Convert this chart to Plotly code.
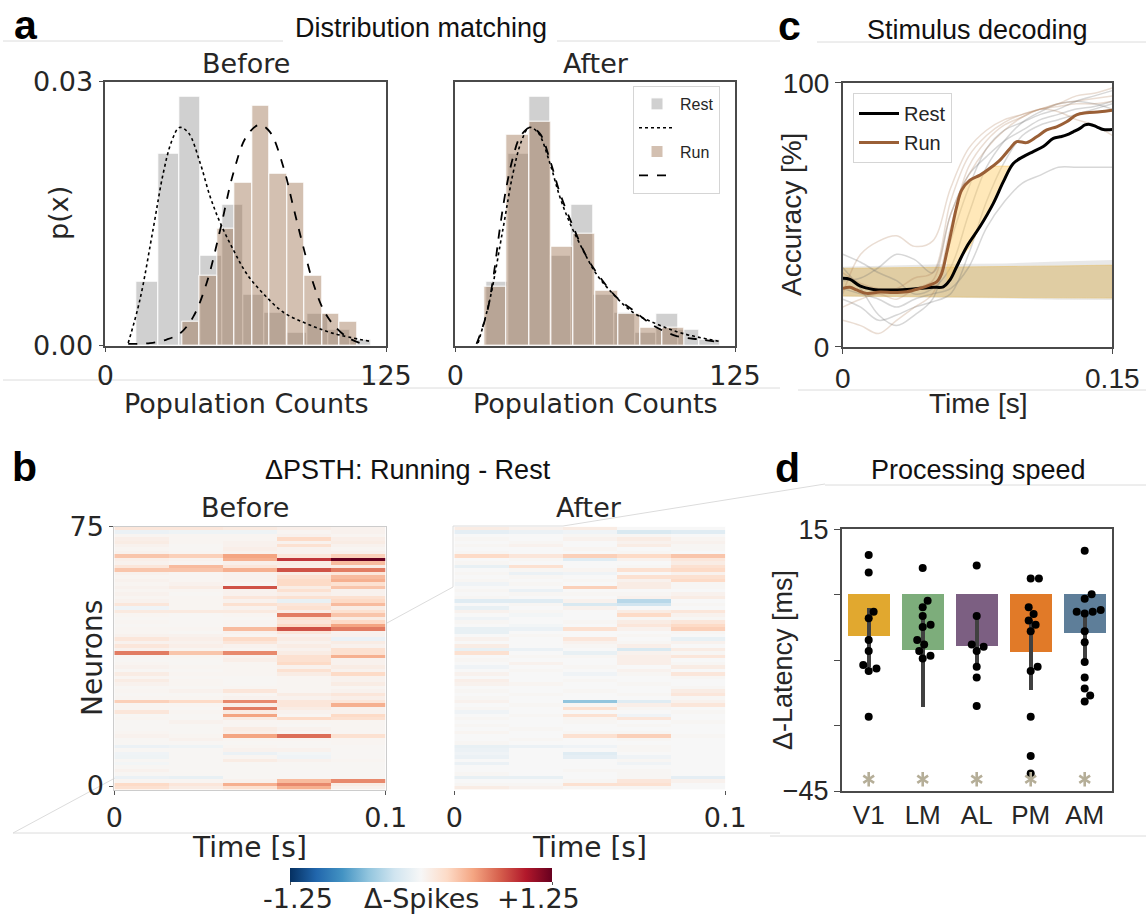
import plotly.graph_objects as go

FIG_W, FIG_H = 1146, 915
DEJAVU = "DejaVu Sans"
ARIAL = "Liberation Sans"
TXT = "#262626"
SPINE = "#4a4a4a"

# ======================= data: a (distribution matching) =======================
rest_bin_start, rest_bin_width = 14.0, 9.5
rest_density = [0.0073, 0.0218, 0.0283, 0.0102, 0.0160, 0.0058, 0.0037, 0.0015, 0.0036, 0.0018, 0.0007]
run_before_bin_start, run_before_bin_width = 34.1, 7.8
run_before_density = [0.0027, 0.0079, 0.0133, 0.0185, 0.0273, 0.0195, 0.0185, 0.0080, 0.0036, 0.0027]
run_after_bin_start, run_after_bin_width = 13.0, 9.95
run_after_density = [0.0067, 0.0240, 0.0254, 0.0112, 0.0127, 0.0063, 0.0036, 0.0021, 0.0021]

rest_fit_x = [10.2, 15.4, 21.4, 25.8, 29.5, 33.0, 37.0, 42.2, 46.6, 51.1, 57.0, 62.9, 70.4, 79.3, 89.7, 101.5, 117.9]
rest_fit_y = [0.0003, 0.0052, 0.0134, 0.0196, 0.0232, 0.0248, 0.0242, 0.0208, 0.0170, 0.0140, 0.0109, 0.0082, 0.0059, 0.0038, 0.0025, 0.0014, 0.0005]
run_fit_x = [10.2, 19.9, 27.3, 33.3, 39.2, 45.1, 51.1, 57.0, 62.9, 68.6, 73.3, 79.3, 83.7, 88.2, 92.6, 97.1, 101.5, 107.5, 113.4]
run_fit_y = [0.0002, 0.0003, 0.0007, 0.0014, 0.0033, 0.0071, 0.0131, 0.0196, 0.0238, 0.0251, 0.0243, 0.0203, 0.0158, 0.0112, 0.0071, 0.0041, 0.0024, 0.0010, 0.0003]
run_after_fit_x = [9.5, 14.0, 17.0, 20.0, 22.9, 25.9, 28.9, 33.4, 37.8, 42.3, 46.8, 52.7, 58.7, 64.6, 72.1, 79.6, 88.5, 98.9, 109.4, 119.0]
run_after_fit_y = [0.0002, 0.0036, 0.0078, 0.0135, 0.0181, 0.0215, 0.0237, 0.0248, 0.0241, 0.0211, 0.0173, 0.0135, 0.0101, 0.0078, 0.0055, 0.0040, 0.0023, 0.0011, 0.0007, 0.0004]

# ======================= data: c (stimulus decoding) =======================
rest_t = [0, .0041, .0096, .0170, .0263, .0356, .0430, .0504, .0560, .0597, .0634, .0690, .0764, .0838, .0894,
          .0949, .1005, .1060, .1116, .1172, .1209, .1246, .1283, .1320, .1348, .1376, .1413, .1450, .15]
rest_acc = [25.9, 25.5, 23.0, 21.7, 21.5, 21.7, 22.1, 22.5, 22.7, 25.3, 30.3, 37.9, 45.5, 54.3, 62.5,
            69.4, 72.0, 73.9, 75.8, 78.9, 79.5, 80.2, 81.4, 82.7, 84.0, 84.2, 83.3, 82.3, 82.3]
run_t = [0, .0041, .0078, .0133, .0208, .0282, .0356, .0430, .0486, .0523, .0551, .0578, .0606, .0634, .0662,
         .0708, .0764, .0819, .0875, .0931, .0968, .1023, .1079, .1135, .1190, .1246, .1301, .1357, .1431, .15]
run_acc = [22.1, 22.5, 21.5, 20.2, 20.7, 20.5, 20.8, 22.1, 23.4, 24.6, 27.8, 35.4, 44.2, 53.0, 59.3,
           63.1, 65.0, 67.6, 70.7, 75.1, 77.7, 77.3, 79.5, 82.1, 83.3, 85.2, 87.8, 88.6, 89.0, 89.6]

sig_t = [0.0578, 0.0606, 0.0634, 0.0662, 0.0708, 0.0764, 0.0801, 0.0838, 0.0894, 0.0935]
sig_upper = [35.4, 44.2, 53.0, 59.3, 63.1, 65.0, 66.9, 68.4, 68.4, 68.4]
sig_lower = [24.0, 27.0, 30.3, 34.0, 37.9, 45.5, 50.0, 54.3, 62.5, 68.4]

band_t = [0, 0.03, 0.06, 0.09, 0.12, 0.15]
rest_band_hi = [30.3, 30.8, 31.3, 31.5, 32.3, 32.8]
rest_band_lo = [18.9, 18.7, 18.5, 18.3, 17.8, 17.7]
run_band_hi = [29.7, 29.9, 30.0, 30.2, 30.6, 30.9]
run_band_lo = [19.2, 19.0, 18.9, 18.6, 18.5, 18.4]

session_t = [0, .01, .02, .03, .04, .05, .06, .07, .08, .09, .10, .11, .12, .13, .14, .15]
rest_sessions = [
    [30, 22, 12, 8, 12, 18, 40, 60, 75, 82, 85, 88, 90, 93, 95, 97],
    [22, 20, 18, 15, 18, 20, 22, 30, 45, 55, 62, 65, 68, 68, 68, 68],
    [18, 15, 10, 12, 15, 17, 20, 35, 55, 70, 80, 84, 86, 88, 90, 92],
    [35, 32, 28, 25, 20, 22, 30, 50, 68, 78, 85, 89, 92, 93, 92, 90],
    [25, 26, 30, 35, 33, 28, 50, 65, 72, 78, 82, 86, 88, 90, 91, 93],
]
run_sessions = [
    [20, 35, 40, 42, 38, 40, 60, 75, 82, 86, 88, 90, 92, 95, 96, 98],
    [10, 8, 5, 10, 15, 20, 45, 68, 78, 84, 87, 90, 89, 86, 84, 80],
    [28, 24, 22, 22, 26, 28, 55, 72, 80, 85, 88, 90, 92, 93, 94, 95],
    [15, 18, 20, 18, 22, 25, 50, 65, 75, 82, 87, 90, 91, 92, 92, 93],
]

# ======================= data: b (delta PSTH) =======================
time_bins = [0.01, 0.03, 0.05, 0.07, 0.09]
neuron_ids = list(range(75, -1, -1))
psth_before = [
    [0.15, 0.15, 0.12, 0.08, 0.05], [-0.08, -0.06, -0.06, 0.03, 0.05], [0.03, 0.03, 0.03, 0.05, 0.03],
    [0.08, 0.03, 0.03, 0.25, 0.08], [0.10, 0.03, 0.05, 0.05, 0.10], [0.05, 0.02, 0.05, 0.20, 0.05],
    [0.03, 0.02, 0.08, 0.05, 0.03], [0.05, 0.03, 0.05, 0.05, 0.05], [0.35, 0.30, 0.50, 0.15, 0.30],
    [0.08, 0.05, 0.45, 0.90, 1.25], [0.05, 0.03, 0.08, 0.10, 0.40], [0.15, 0.40, 0.15, 0.08, 0.10],
    [0.35, 0.35, 0.45, 0.80, 0.65], [0.05, 0.03, 0.05, 0.10, 0.15], [0.03, 0.03, 0.05, 0.20, 0.40],
    [0.05, 0.03, 0.05, 0.25, 0.45], [0.03, 0.05, 0.03, 0.25, 0.20], [0.05, 0.10, 0.80, 0.10, 0.35],
    [0.03, 0.03, 0.05, 0.20, 0.05], [0.05, 0.02, 0.05, 0.08, 0.05], [0.03, 0.03, 0.15, 0.20, 0.20],
    [0.05, 0.03, 0.05, -0.10, 0.25], [0.15, 0.03, 0.20, 0.15, 0.40], [-0.05, 0.03, 0.05, 0.20, 0.10],
    [0.12, 0.12, 0.12, 0.10, 0.20], [0.03, 0.02, 0.03, 0.65, 0.35], [0.02, 0.02, 0.02, 0.20, 0.10],
    [0.03, 0.02, 0.03, 0.15, 0.25], [0.02, 0.02, 0.03, 0.25, 0.50], [0.03, 0.03, 0.40, 0.80, 0.65],
    [0.03, 0.02, 0.05, 0.15, 0.05], [0.05, 0.05, 0.03, 0.05, 0.05], [0.15, 0.08, 0.25, 0.10, -0.08],
    [0.05, 0.05, 0.15, 0.05, 0.10], [0.15, 0.08, 0.05, 0.10, 0.05], [0.05, 0.03, 0.03, 0.05, 0.20],
    [0.65, 0.35, 0.60, 0.10, 0.20], [0.03, 0.03, 0.05, 0.20, 0.45], [0.02, 0.02, 0.08, 0.20, 0.05],
    [0.03, 0.02, 0.03, 0.25, 0.05], [0.05, 0.03, 0.03, 0.05, 0.10], [0.02, 0.02, 0.03, 0.20, 0.05],
    [0.10, 0.03, 0.03, 0.10, 0.25], [0.03, 0.02, 0.02, 0.03, 0.05], [0.10, 0.03, 0.02, 0.03, 0.05],
    [0.05, 0.03, 0.02, 0.03, 0.10], [0.02, 0.02, 0.03, 0.03, 0.03], [0.03, 0.05, 0.15, 0.03, 0.05],
    [0.02, 0.02, 0.03, 0.10, 0.15], [0.03, 0.03, 0.05, 0.05, 0.08], [0.30, 0.25, 0.60, 0.15, 0.15],
    [0.03, 0.03, 0.08, 0.15, 0.45], [0.03, 0.02, 0.65, 0.10, 0.05], [0.15, 0.03, 0.10, 0.05, 0.05],
    [0.02, 0.02, 0.50, 0.03, 0.25], [0.03, 0.02, 0.10, 0.25, 0.20], [0.02, 0.05, 0.03, 0.03, 0.03],
    [0.02, 0.02, 0.03, 0.02, 0.03], [0.02, 0.02, 0.10, 0.05, 0.03], [0.03, 0.02, 0.08, 0.03, 0.03],
    [0.05, 0.03, 0.50, 0.70, 0.20], [0.02, 0.05, 0.03, 0.03, 0.03], [0.02, 0.02, 0.02, 0.02, 0.03],
    [-0.08, -0.06, 0.03, 0.02, 0.02], [0.02, 0.02, 0.05, 0.05, 0.02], [-0.05, 0.02, -0.08, -0.03, 0.02],
    [-0.06, 0.02, 0.03, -0.05, 0.02], [0.02, 0.02, 0.10, 0.05, 0.03], [-0.03, 0.02, 0.02, 0.02, 0.02],
    [0.02, 0.02, 0.02, 0.02, 0.02], [0.05, 0.02, 0.02, 0.02, 0.02], [0.02, 0.02, 0.02, 0.02, 0.02],
    [-0.08, -0.10, 0.02, 0.02, 0.02], [0.03, 0.03, 0.05, 0.40, 0.60], [0.25, 0.15, 0.45, 0.60, 0.10],
    [0.20, 0.10, 0.20, 0.45, 0.05],
]
psth_after = [
    [0.10, 0.05, 0.10, 0.00, 0.00], [-0.12, -0.08, -0.05, -0.20, -0.15], [0.00, 0.00, 0.02, 0.02, 0.00],
    [0.02, 0.00, 0.05, 0.10, 0.03], [0.00, 0.02, 0.00, 0.05, 0.05], [0.02, 0.05, 0.00, 0.10, 0.02],
    [0.00, 0.00, 0.03, 0.00, 0.02], [0.02, 0.00, 0.00, 0.02, 0.00], [0.25, 0.15, 0.30, 0.25, 0.35],
    [0.00, 0.02, -0.15, 0.05, 0.15], [0.02, 0.00, 0.00, 0.00, 0.10], [-0.10, 0.20, 0.00, 0.02, 0.20],
    [0.00, 0.02, 0.03, 0.20, 0.25], [0.02, -0.08, -0.05, 0.00, 0.05], [0.00, 0.02, 0.00, 0.20, 0.20],
    [0.02, 0.00, 0.02, 0.05, 0.25], [-0.05, 0.02, 0.00, 0.10, 0.02], [0.00, 0.00, 0.30, 0.10, 0.02],
    [0.02, -0.08, 0.00, 0.00, 0.00], [0.00, 0.02, 0.02, 0.02, 0.05], [0.02, 0.00, 0.00, 0.05, 0.10],
    [-0.15, -0.15, 0.05, -0.35, 0.00], [0.00, 0.02, -0.20, -0.25, 0.02], [-0.10, 0.00, 0.05, 0.00, 0.00],
    [0.05, 0.02, 0.00, 0.10, 0.15], [0.00, -0.03, 0.00, 0.25, 0.05], [-0.05, 0.00, 0.00, 0.02, 0.02],
    [0.02, 0.00, 0.02, 0.10, 0.15], [0.00, -0.03, 0.00, 0.15, 0.25], [-0.10, -0.08, 0.20, 0.05, 0.30],
    [-0.10, 0.00, 0.00, 0.00, 0.02], [0.00, 0.02, 0.00, 0.02, 0.00], [0.05, 0.00, 0.15, 0.00, -0.10],
    [0.00, 0.00, 0.05, 0.02, 0.05], [0.10, 0.00, 0.02, 0.08, 0.00], [-0.10, -0.08, 0.00, -0.20, 0.10],
    [0.20, 0.00, -0.10, 0.05, 0.02], [0.00, 0.02, 0.02, 0.08, 0.15], [0.02, 0.00, 0.00, 0.08, 0.00],
    [0.00, 0.05, 0.00, 0.08, 0.02], [-0.05, 0.00, 0.02, 0.00, 0.10], [0.00, 0.02, 0.00, 0.05, 0.00],
    [0.05, 0.00, -0.05, 0.02, 0.15], [0.00, 0.00, 0.00, 0.00, 0.02], [0.08, 0.00, 0.02, 0.00, 0.00],
    [0.05, 0.03, 0.00, 0.02, 0.00], [0.00, 0.00, 0.00, 0.00, 0.02], [0.02, 0.00, 0.02, 0.00, 0.10],
    [0.00, 0.02, 0.00, 0.02, 0.15], [0.02, 0.00, 0.00, 0.00, 0.02], [0.05, 0.00, -0.50, -0.15, 0.05],
    [0.00, 0.02, 0.02, 0.08, 0.15], [0.02, 0.00, 0.20, 0.02, 0.00], [-0.05, 0.00, 0.00, 0.00, 0.02],
    [0.00, 0.02, 0.20, -0.05, 0.00], [0.02, 0.00, 0.03, 0.15, 0.00], [0.00, 0.00, 0.02, 0.00, 0.02],
    [0.02, 0.00, 0.00, 0.02, 0.00], [0.00, 0.02, 0.00, 0.00, 0.00], [0.03, 0.00, 0.02, 0.02, 0.00],
    [0.00, 0.00, 0.20, 0.30, 0.02], [0.00, 0.02, 0.00, 0.02, 0.00], [0.02, 0.00, 0.00, 0.00, 0.00],
    [-0.10, -0.08, -0.05, 0.02, 0.00], [-0.08, 0.00, 0.00, 0.02, 0.00], [-0.05, 0.00, -0.15, 0.00, 0.00],
    [-0.08, 0.00, -0.12, -0.05, 0.00], [0.00, 0.00, 0.00, 0.02, 0.00], [-0.08, 0.00, 0.00, -0.05, 0.00],
    [0.00, 0.00, 0.00, 0.00, 0.00], [0.00, 0.00, 0.02, 0.02, 0.00], [0.02, 0.00, 0.00, 0.02, 0.00],
    [-0.10, -0.10, 0.00, 0.02, -0.12], [0.00, 0.00, 0.02, 0.15, 0.05], [0.02, 0.02, 0.20, 0.20, 0.00],
    [0.10, 0.05, 0.02, 0.02, 0.00],
]
spike_lim = 1.25

# ======================= data: d (processing speed) =======================
regions = ["V1", "LM", "AL", "PM", "AM"]
latency_mean = [-9.6, -12.8, -11.9, -13.3, -8.9]
latency_err_hi = [-3.1, -4.3, -4.6, -5.8, -4.3]
latency_err_lo = [-16.5, -25.7, -16.5, -21.8, -15.0]
latency_points = [
    [9.1, 5.1, -3.9, -5.4, -10.4, -12.9, -16.9, -17.5, -16.1, -28.0],
    [6.1, -1.4, -2.9, -4.9, -6.9, -7.4, -10.4, -11.4, -12.9, -14.0, -14.6],
    [6.7, -4.9, -11.9, -11.4, -12.9, -16.5, -19.0, -25.5],
    [3.7, 3.7, -2.9, -4.4, -5.9, -6.9, -8.4, -16.5, -17.5, -28.0, -37.0, -41.0],
    [10.1, 0.1, -0.9, -3.9, -4.3, -3.9, -3.5, -8.4, -10.9, -15.4, -19.0, -21.5, -23.1, -24.5],
]
significance_level = -42.3

# ======================= styles =======================
rest_bar_color = "rgba(150,150,150,0.45)"
run_bar_color = "rgba(150,105,70,0.42)"
run_line_color = "#9a5f36"
region_colors = ["#E1A82F", "#7DAD7B", "#7C5F82", "#E17A28", "#5E7E99"]
star_color = "#b5ae98"
rdbu_r = [[0.0, '#053061'], [0.1, '#2166ac'], [0.2, '#4393c3'], [0.3, '#92c5de'], [0.4, '#d1e5f0'],
          [0.5, '#f7f7f7'], [0.6, '#fddbc7'], [0.7, '#f4a582'], [0.8, '#d6604d'], [0.9, '#b2182b'],
          [1.0, '#67001f']]


def px_x(x):
    return x / FIG_W


def px_y(y):
    return 1 - y / FIG_H


def bin_centers(start, width, n):
    return [start + width * (i + 0.5) for i in range(n)]


def swarm(values, diam=8.2, ypx=262 / 60, xpx=54.0):
    placed = []
    offs = [0.0] * len(values)
    order = sorted(range(len(values)), key=lambda i: values[i])
    for i in order:
        y = values[i] * ypx
        cands = [0.0]
        for (cx, cy) in placed:
            dy = y - cy
            if abs(dy) < diam:
                dx = (diam ** 2 - dy ** 2) ** 0.5
                cands += [cx + dx, cx - dx]
        cands.sort(key=abs)
        chosen = cands[-1]
        for c in cands:
            if all((c - cx) ** 2 + (y - cy) ** 2 >= diam ** 2 - 1e-6 for cx, cy in placed):
                chosen = c
                break
        placed.append((chosen, y))
        offs[i] = chosen / xpx
    return offs


fig = go.Figure()

# ---------- a: Before ----------
fig.add_trace(go.Bar(x=bin_centers(rest_bin_start, rest_bin_width, len(rest_density)), y=rest_density,
                     width=rest_bin_width, marker=dict(color=rest_bar_color, line=dict(color="white", width=1)),
                     xaxis="x", yaxis="y", showlegend=False))
fig.add_trace(go.Bar(x=bin_centers(run_before_bin_start, run_before_bin_width, len(run_before_density)),
                     y=run_before_density, width=run_before_bin_width,
                     marker=dict(color=run_bar_color, line=dict(color="white", width=1)),
                     xaxis="x", yaxis="y", showlegend=False))
fig.add_trace(go.Scatter(x=rest_fit_x, y=rest_fit_y, mode="lines", line=dict(color="black", width=1.6, dash="dot", shape="spline"),
                         xaxis="x", yaxis="y", showlegend=False))
fig.add_trace(go.Scatter(x=run_fit_x, y=run_fit_y, mode="lines", line=dict(color="black", width=1.8, dash="dash", shape="spline"),
                         xaxis="x", yaxis="y", showlegend=False))

# ---------- a: After ----------
fig.add_trace(go.Bar(x=bin_centers(rest_bin_start, rest_bin_width, len(rest_density)), y=rest_density,
                     width=rest_bin_width, marker=dict(color=rest_bar_color, line=dict(color="white", width=1)),
                     xaxis="x2", yaxis="y2", name="Rest", legend="legend", legendrank=1))
fig.add_trace(go.Scatter(x=rest_fit_x, y=rest_fit_y, mode="lines", line=dict(color="black", width=1.6, dash="dot", shape="spline"),
                         xaxis="x2", yaxis="y2", name=" ", legend="legend", legendrank=2))
fig.add_trace(go.Bar(x=bin_centers(run_after_bin_start, run_after_bin_width, len(run_after_density)),
                     y=run_after_density, width=run_after_bin_width,
                     marker=dict(color=run_bar_color, line=dict(color="white", width=1)),
                     xaxis="x2", yaxis="y2", name="Run", legend="legend", legendrank=3))
fig.add_trace(go.Scatter(x=run_after_fit_x, y=run_after_fit_y, mode="lines",
                         line=dict(color="black", width=1.8, dash="dash", shape="spline"),
                         xaxis="x2", yaxis="y2", name="  ", legend="legend", legendrank=4))

# ---------- c: decoding ----------
fig.add_trace(go.Scatter(x=band_t + band_t[::-1], y=rest_band_hi + rest_band_lo[::-1], fill="toself",
                         fillcolor="rgba(190,190,190,0.35)", line=dict(width=0), mode="lines",
                         xaxis="x3", yaxis="y3", showlegend=False))
fig.add_trace(go.Scatter(x=band_t + band_t[::-1], y=run_band_hi + run_band_lo[::-1], fill="toself",
                         fillcolor="rgba(215,172,80,0.45)", line=dict(width=0.8, color="rgba(230,190,100,0.6)"), mode="lines",
                         xaxis="x3", yaxis="y3", showlegend=False))
for s in rest_sessions:
    fig.add_trace(go.Scatter(x=session_t, y=s, mode="lines", line=dict(color="rgba(110,110,110,0.28)", width=1.5, shape="spline"),
                             xaxis="x3", yaxis="y3", showlegend=False))
for s in run_sessions:
    fig.add_trace(go.Scatter(x=session_t, y=s, mode="lines", line=dict(color="rgba(170,120,80,0.25)", width=1.5, shape="spline"),
                             xaxis="x3", yaxis="y3", showlegend=False))
fig.add_trace(go.Scatter(x=sig_t + sig_t[::-1], y=sig_upper + sig_lower[::-1], fill="toself",
                         fillcolor="rgba(255,205,100,0.45)", line=dict(width=0.8, color="rgba(255,200,90,0.6)"), mode="lines",
                         xaxis="x3", yaxis="y3", showlegend=False))
fig.add_trace(go.Scatter(x=rest_t, y=rest_acc, mode="lines", line=dict(color="black", width=3, shape="spline"),
                         xaxis="x3", yaxis="y3", name="Rest", legend="legend2"))
fig.add_trace(go.Scatter(x=run_t, y=run_acc, mode="lines", line=dict(color=run_line_color, width=3, shape="spline"),
                         xaxis="x3", yaxis="y3", name="Run", legend="legend2"))

# ---------- b: heatmaps ----------
neuron_centers = [n - 0.5 for n in neuron_ids]
fig.add_trace(go.Heatmap(z=psth_before, x=time_bins, y=neuron_centers, coloraxis="coloraxis",
                         xaxis="x4", yaxis="y4", hoverinfo="skip"))
fig.add_trace(go.Heatmap(z=psth_after, x=time_bins, y=neuron_centers, coloraxis="coloraxis",
                         xaxis="x5", yaxis="y5", hoverinfo="skip"))

# ---------- d: latency ----------
region_idx = list(range(len(regions)))
fig.add_trace(go.Bar(x=region_idx, y=latency_mean, width=0.77, marker=dict(color=region_colors, line=dict(width=0)),
                     error_y=dict(type="data", symmetric=False,
                                  array=[h - m for h, m in zip(latency_err_hi, latency_mean)],
                                  arrayminus=[m - l for m, l in zip(latency_mean, latency_err_lo)],
                                  color="#404040", thickness=4, width=0),
                     xaxis="x6", yaxis="y6", showlegend=False))
for i, pts in enumerate(latency_points):
    offs = swarm(pts)
    fig.add_trace(go.Scatter(x=[i + o for o in offs], y=pts, mode="markers",
                             marker=dict(color="black", size=8), xaxis="x6", yaxis="y6", showlegend=False))
for sym in ["y-up-open", "y-down-open"]:
    fig.add_trace(go.Scatter(x=region_idx, y=[significance_level] * len(regions), mode="markers",
                             marker=dict(symbol=sym, size=9, color=star_color, line=dict(color=star_color, width=2.6)),
                             xaxis="x6", yaxis="y6", showlegend=False))

# ======================= layout =======================
def axis_common(**kw):
    d = dict(showgrid=False, zeroline=False, showline=True, linecolor=SPINE, linewidth=1.5, mirror=True,
             ticks="outside", ticklen=5, tickwidth=1.2, tickcolor=SPINE, automargin=False)
    d.update(kw)
    return d


tf_dv = dict(family=DEJAVU, size=27, color=TXT)
ya_top = [px_y(345.7), px_y(81.7)]
ya_b = [px_y(789.5), px_y(526.7)]

layout = dict(
    width=FIG_W, height=FIG_H, margin=dict(l=0, r=0, t=0, b=0, autoexpand=False),
    paper_bgcolor="white", plot_bgcolor="white", barmode="overlay", bargap=0,
    font=dict(family=DEJAVU, color=TXT),
    xaxis=axis_common(domain=[px_x(105.3), px_x(386)], range=[0, 125], tickvals=[0, 125], tickfont=tf_dv, anchor="y"),
    yaxis=axis_common(domain=ya_top, range=[0, 0.03], tickvals=[0, 0.03], tickformat=".2f", tickfont=tf_dv, anchor="x"),
    xaxis2=axis_common(domain=[px_x(455.3), px_x(735)], range=[0, 125], tickvals=[0, 125], tickfont=tf_dv, anchor="y2"),
    yaxis2=axis_common(domain=ya_top, range=[0, 0.03], showticklabels=False, ticks="", anchor="x2"),
    xaxis3=axis_common(domain=[px_x(842.7), px_x(1112.3)], range=[0, 0.15], tickvals=[0, 0.15], ticktext=["0", "0.15"],
                       tickfont=dict(family=ARIAL, size=28, color=TXT), anchor="y3", ticklen=6),
    yaxis3=axis_common(domain=[px_y(346.7), px_y(82.7)], range=[0, 100], tickvals=[0, 100],
                       tickfont=dict(family=ARIAL, size=28, color=TXT), anchor="x3", ticklen=6),
    xaxis4=axis_common(domain=[px_x(114.3), px_x(385.7)], range=[0, 0.1], tickvals=[0, 0.1], ticktext=["0", "0.1"],
                       tickfont=tf_dv, anchor="y4", linecolor="#cccccc", linewidth=1, ticklen=4, tickcolor="#555"),
    yaxis4=axis_common(domain=ya_b, range=[-1, 75], tickvals=[0, 75], tickfont=tf_dv, anchor="x4",
                       linecolor="#cccccc", linewidth=1, ticklen=4, tickcolor="#555"),
    xaxis5=axis_common(domain=[px_x(454.3), px_x(725.3)], range=[0, 0.1], tickvals=[0, 0.1], ticktext=["0", "0.1"],
                       tickfont=tf_dv, anchor="y5", showline=False, ticklen=4, tickcolor="#555"),
    yaxis5=axis_common(domain=ya_b, range=[-1, 75], showticklabels=False, ticks="", showline=False, anchor="x5"),
    xaxis6=axis_common(domain=[px_x(841.7), px_x(1111.7)], range=[-0.5, 4.5], tickvals=region_idx, ticktext=regions,
                       ticks="", tickfont=dict(family=ARIAL, size=26, color=TXT), anchor="y6"),
    yaxis6=axis_common(domain=[px_y(791), px_y(529.3)], range=[-45, 15], tickvals=[15, 0, -15, -30, -45],
                       ticktext=["15", "", "", "", "\u221245"], tickfont=dict(family=ARIAL, size=27, color=TXT),
                       anchor="x6", ticklen=6),
    coloraxis=dict(colorscale=rdbu_r, cmin=-spike_lim, cmax=spike_lim,
                   colorbar=dict(orientation="h", x=px_x(421), xanchor="center", y=px_y(868), yanchor="top",
                                 len=262 / FIG_W, lenmode="fraction", thickness=14, thicknessmode="pixels",
                                 outlinewidth=0, tickvals=[-spike_lim, spike_lim], showticklabels=False,
                                 ticks="outside", ticklen=3, tickcolor="#555", xpad=0, ypad=0)),
    legend=dict(x=px_x(633), y=px_y(86), xanchor="left", yanchor="top", font=dict(family=ARIAL, size=16, color=TXT),
                bgcolor="rgba(255,255,255,0.85)", bordercolor="#d5d5d5", borderwidth=1, tracegroupgap=0,
                itemwidth=36),
    legend2=dict(x=px_x(853), y=px_y(93), xanchor="left", yanchor="top", font=dict(family=ARIAL, size=20, color=TXT),
                 bgcolor="rgba(255,255,255,0.85)", bordercolor="#d5d5d5", borderwidth=1, tracegroupgap=0,
                 itemwidth=40),
)
fig.update_layout(**layout)


def ann(text, x, y, size, family=ARIAL, bold=False, angle=0, color=TXT):
    return dict(text=f"<b>{text}</b>" if bold else text, x=px_x(x), y=px_y(y), xref="paper", yref="paper",
                showarrow=False, font=dict(family=family, size=size, color=color), textangle=angle,
                xanchor="center", yanchor="middle")


annotations = [
    ann("a", 26, 25, 41, bold=True, color="black"),
    ann("b", 24, 467, 41, bold=True, color="black"),
    ann("c", 789, 26, 41, bold=True, color="black"),
    ann("d", 787, 468, 41, bold=True, color="black"),
    ann("Distribution matching", 421, 28, 27, color="#111"),
    ann("Stimulus decoding", 977, 30, 27, color="#111"),
    ann("\u0394PSTH: Running - Rest", 408, 470, 27, color="#111"),
    ann("Processing speed", 978, 470, 27, color="#111"),
    ann("Before", 246, 63, 27, family=DEJAVU),
    ann("After", 596, 63, 27, family=DEJAVU),
    ann("Before", 245, 507, 27, family=DEJAVU),
    ann("After", 589, 507, 27, family=DEJAVU),
    ann("Population Counts", 246, 403, 27, family=DEJAVU),
    ann("Population Counts", 595, 403, 27, family=DEJAVU),
    ann("p(x)", 58, 213, 27, family=DEJAVU, angle=-90),
    ann("Time [s]", 249, 847, 28, family=DEJAVU),
    ann("Time [s]", 589, 847, 28, family=DEJAVU),
    ann("Neurons", 92, 658, 28, family=DEJAVU, angle=-90),
    ann("-1.25", 298, 898, 27, family=DEJAVU),
    ann("\u0394-Spikes", 421, 898, 27, family=DEJAVU),
    ann("+1.25", 538, 898, 27, family=DEJAVU),
    ann("Accuracy [%]", 791, 215, 28, angle=-90),
    ann("\u0394-Latency [ms]", 783, 660, 27, angle=-90),
    ann("Time [s]", 978, 403, 28),
]
fig.update_layout(annotations=annotations)

# faint layout guide lines from the original composite
guide_segments = [
    ((3, 41), (283, 41)), ((557, 41), (780, 41)), ((817, 42), (1146, 42)),
    ((3, 380), (400, 380)), ((400, 388), (780, 388)), ((798, 390), (1146, 390)),
    ((13, 833), (780, 833)), ((13, 833), (115, 778)),
    ((387, 623), (453, 587)), ((453, 587), (453, 526)), ((453, 526), (563, 526)),
    ((563, 526), (825, 484)), ((825, 485), (1146, 485)), ((770, 836), (1146, 836)),
]
shapes = []
for (x0, y0), (x1, y1) in guide_segments:
    shapes.append(dict(type="line", xref="paper", yref="paper", x0=px_x(x0), y0=px_y(y0), x1=px_x(x1), y1=px_y(y1),
                       line=dict(color="#dcdcdc", width=1), layer="below"))
fig.update_layout(shapes=shapes)

fig.write_html("out.html", config={"displayModeBar": False},
               post_script="document.body.style.margin='0px';document.body.style.padding='0px';")
